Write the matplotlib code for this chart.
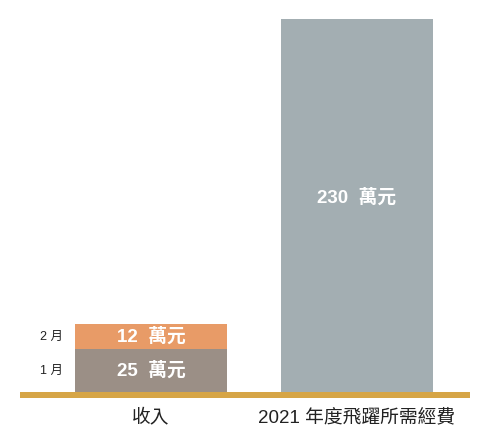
import matplotlib.pyplot as plt
from matplotlib.patches import Rectangle

plt.rcParams["font.family"] = ["Liberation Sans", "Noto Sans CJK TC", "DejaVu Sans"]

categories = ["收入", "2021 年度飛躍所需經費"]
# amounts printed on the chart (萬元)
jan_amount = 25
feb_amount = 12
need_amount = 230
# bar heights as drawn in the picture (the income segments are not to scale)
jan_height = 26.5
feb_height = 15.2
need_height = 230
seg_labels = ["1 月", "2 月"]

C_JAN = "#9b8f86"
C_FEB = "#e89b67"
C_NEED = "#a3aeb2"
C_BASE = "#d6a546"

fig = plt.figure(figsize=(4.87, 4.37), dpi=100)
ax = fig.add_axes([20 / 487, 45 / 437, 450 / 487, 373 / 437])

x = [0, 1]
w = 0.738
ax.bar(x[0], jan_height, width=w, color=C_JAN)
ax.bar(x[0], feb_height, bottom=jan_height, width=w, color=C_FEB)
ax.bar(x[1], need_height, width=w, color=C_NEED)

# value labels inside bars
lbl = dict(ha="center", va="center", color="white", fontsize=13.5, fontweight="bold")
ax.text(x[0], jan_height / 2, f"{jan_amount}  萬元", **lbl)
ax.text(x[0], jan_height + feb_height / 2, f"{feb_amount}  萬元", **lbl)
ax.text(x[1], need_height * 0.52, f"{need_amount}  萬元", **lbl)

# month labels left of the stacked bar
ax.text(x[0] - w / 2 - 0.06, jan_height / 2, seg_labels[0], ha="right", va="center",
        fontsize=9, color="#222")
ax.text(x[0] - w / 2 - 0.06, jan_height + feb_height / 2, seg_labels[1], ha="right",
        va="center", fontsize=9, color="#222")

# baseline
ax.add_patch(Rectangle((0, -3.4), 1, 3.4, transform=ax.get_yaxis_transform(),
                       facecolor=C_BASE, edgecolor="none", clip_on=False))

ax.set_xlim(-0.636, 1.549)
ax.set_ylim(0, 230)
ax.set_xticks(x)
ax.set_xticklabels(categories, fontsize=13.5, color="#222")
ax.tick_params(axis="x", length=0, pad=12)
ax.set_yticks([])
for spine in ax.spines.values():
    spine.set_visible(False)

fig.savefig("out.png", dpi=100)
